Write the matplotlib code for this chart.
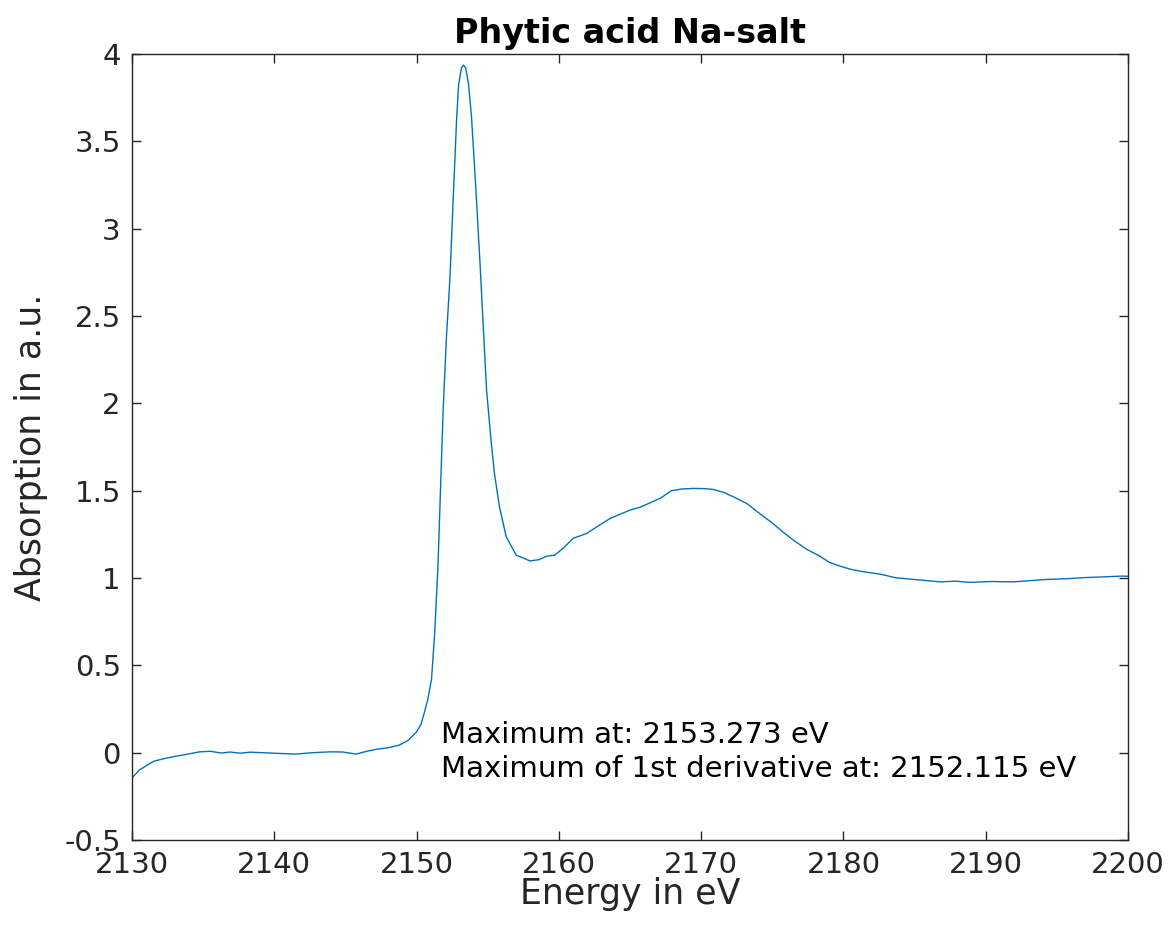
import matplotlib
matplotlib.use('Agg')
import matplotlib.pyplot as plt
from matplotlib.ticker import FuncFormatter

plt.rcParams['axes.unicode_minus'] = False
plt.rcParams['font.family'] = 'DejaVu Sans'

INK = '#262626'
LINE = '#0072BD'

# traced spectrum (energy in eV, absorption in a.u.)
energy = [2130.0, 2130.5, 2131.0, 2131.5, 2132.2, 2132.9, 2133.8, 2134.75, 2135.5,
          2136.3, 2136.9, 2137.6, 2138.3, 2139.2, 2140.3, 2141.5, 2142.7, 2143.9,
          2144.8, 2145.75, 2146.5, 2147.2, 2148.0, 2148.8, 2149.4, 2150.0, 2150.3,
          2150.55, 2150.8, 2151.05, 2151.27, 2151.5, 2151.87, 2152.1, 2152.34,
          2152.6, 2152.81, 2152.95, 2153.15, 2153.3, 2153.45, 2153.65, 2153.86,
          2154.15, 2154.45, 2154.7, 2154.92, 2155.23, 2155.47, 2155.82, 2156.3,
          2157.0, 2157.97, 2158.6, 2159.14, 2159.7, 2160.3, 2161.0, 2161.95,
          2162.8, 2163.6, 2164.3, 2165.0, 2165.7, 2166.4, 2167.2, 2167.9, 2168.7,
          2169.45, 2170.2, 2170.85, 2171.6, 2172.26, 2173.2, 2174.1, 2175.07,
          2175.8, 2176.48, 2177.4, 2178.35, 2179.0, 2179.76, 2180.5, 2181.4,
          2182.6, 2183.7, 2185.2, 2186.8, 2187.9, 2188.9, 2190.4, 2191.9, 2193.1,
          2194.3, 2195.7, 2197.1, 2198.4, 2199.55, 2200.0]
absorption = [-0.145, -0.10, -0.075, -0.05, -0.035, -0.023, -0.01, 0.005, 0.008,
              -0.002, 0.004, -0.003, 0.003, 0.0, -0.004, -0.008, 0.0, 0.005,
              0.004, -0.008, 0.008, 0.02, 0.028, 0.044, 0.07, 0.12, 0.16,
              0.23, 0.31, 0.42, 0.68, 1.06, 1.97, 2.38, 2.71,
              3.22, 3.62, 3.82, 3.92, 3.937, 3.92, 3.83, 3.64,
              3.25, 2.815, 2.42, 2.075, 1.79, 1.60, 1.41, 1.236,
              1.131, 1.098, 1.105, 1.125, 1.131, 1.17, 1.227, 1.255,
              1.30, 1.341, 1.365, 1.389, 1.405, 1.43, 1.46, 1.50, 1.51,
              1.513, 1.512, 1.507, 1.49, 1.465, 1.427, 1.37, 1.31,
              1.26, 1.217, 1.165, 1.125, 1.09, 1.068, 1.05, 1.036,
              1.022, 1.001, 0.99, 0.978, 0.982, 0.975, 0.98, 0.978, 0.985,
              0.992, 0.996, 1.003, 1.007, 1.011, 1.01]

x_ticks = [2130, 2140, 2150, 2160, 2170, 2180, 2190, 2200]
y_ticks = [-0.5, 0, 0.5, 1, 1.5, 2, 2.5, 3, 3.5, 4]

fig = plt.figure(figsize=(11.68, 9.31), dpi=100, facecolor='white')
ax = fig.add_axes([0.113, 0.0977, 0.8528, 0.8443])

ax.plot(energy, absorption, color=LINE, linewidth=1.0)

ax.set_xlim(2130, 2200)
ax.set_ylim(-0.5, 4)
ax.set_xticks(x_ticks)
ax.set_yticks(y_ticks)
ax.yaxis.set_major_formatter(FuncFormatter(lambda v, p: f'{v:g}'))

ax.tick_params(direction='in', length=6.5, width=1.0, colors=INK,
               labelsize=21, top=True, right=True, pad=8)
for s in ax.spines.values():
    s.set_color(INK)
    s.set_linewidth(1.0)

ax.set_xlabel('Energy in eV', fontsize=25, color=INK, labelpad=-1.5)
ax.set_ylabel('Absorption in a.u.', fontsize=25, color=INK, labelpad=12)
ax.set_title('Phytic acid Na-salt', fontsize=24, fontweight='bold',
             color='black', pad=8)

ax.text(2151.75, 0.005,
        'Maximum at: 2153.273 eV\nMaximum of 1st derivative at: 2152.115 eV',
        fontsize=21, color='black', ha='left', va='center', linespacing=1.25)

fig.savefig('out.png', dpi=100, facecolor='white')
